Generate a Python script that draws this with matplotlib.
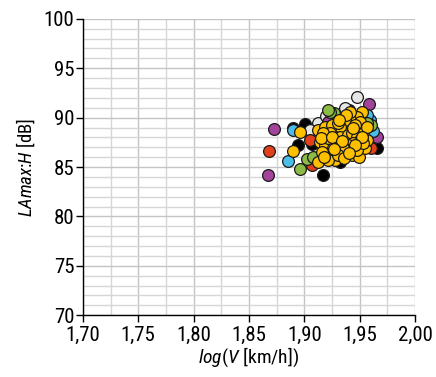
import matplotlib
matplotlib.use("Agg")
import matplotlib.pyplot as plt
import matplotlib.font_manager as fm
from matplotlib.ticker import MultipleLocator, FuncFormatter

# ---------------------------------------------------------------- data
black_v = [1.890, 1.901, 1.907, 1.917, 1.966, 1.932, 1.894, 1.923, 1.940, 1.912, 1.945, 1.928]
black_L = [88.95, 89.35, 87.30, 84.20, 86.90, 85.50, 87.20, 90.00, 90.80, 86.00, 89.80, 86.40]

white_v = [1.912, 1.920, 1.948, 1.937, 1.905]
white_L = [89.45, 90.20, 92.10, 91.00, 88.70]

purple_v = [1.873, 1.867, 1.958, 1.966, 1.921]
purple_L = [88.85, 84.20, 91.40, 88.00, 89.55]

red_v = [1.868, 1.905, 1.907, 1.960]
red_L = [86.60, 87.73, 85.20, 86.90]

blue_v = [1.885, 1.959, 1.962, 1.957, 1.890]
blue_L = [85.60, 89.76, 88.60, 90.30, 88.70]

green_v = [1.896, 1.902, 1.927, 1.923, 1.921, 1.960, 1.957, 1.908]
green_L = [84.80, 85.80, 90.50, 90.57, 90.80, 89.25, 89.45, 86.00]

yellow_v = [1.896, 1.890, 1.912, 1.912, 1.914, 1.919, 1.923, 1.928, 1.935, 1.943,
            1.949, 1.955, 1.957, 1.953, 1.952, 1.948, 1.941, 1.937, 1.932, 1.928,
            1.932, 1.939, 1.943, 1.948, 1.950, 1.944, 1.939, 1.932, 1.926, 1.921,
            1.919, 1.925, 1.930, 1.941, 1.948, 1.953, 1.916, 1.921, 1.935, 1.930,
            1.923, 1.917, 1.941, 1.950, 1.957, 1.915, 1.925, 1.934, 1.946, 1.938,
            1.927, 1.944, 1.936, 1.918, 1.952, 1.931, 1.946, 1.940]
yellow_L = [88.54, 86.61, 85.50, 88.74, 87.53, 87.22, 86.41, 85.70, 86.11, 86.21,
            86.01, 86.92, 87.73, 88.54, 90.57, 90.06, 89.76, 89.76, 89.05, 88.03,
            88.03, 88.24, 88.44, 88.03, 87.73, 87.43, 87.22, 87.02, 86.92, 87.93,
            89.05, 89.25, 89.45, 86.72, 86.72, 87.43, 86.51, 85.70, 86.92, 86.21,
            88.44, 88.44, 90.57, 89.55, 89.05, 87.90, 88.00, 87.60, 89.30, 90.30,
            86.80, 88.90, 85.90, 86.00, 88.00, 89.80, 87.20, 86.40]

series = [
    (black_v, black_L, "#000000"),
    (white_v, white_L, "#e6e6e6"),
    (purple_v, purple_L, "#a2449a"),
    (red_v, red_L, "#e2401c"),
    (blue_v, blue_L, "#4cbde9"),
    (green_v, green_L, "#8bbb44"),
    (yellow_v, yellow_L, "#ffc000"),
]

# ---------------------------------------------------------------- font: look for a condensed face
fam, stretch = "Roboto", "normal"
names = {f.name for f in fm.fontManager.ttflist}
cond = [f for f in fm.fontManager.ttflist
        if f.stretch in ("condensed", "semi-condensed", "extra-condensed") or "Condensed" in f.name or "Narrow" in f.name]
for pref in ["Roboto Condensed", "Liberation Sans Narrow", "Open Sans Condensed"]:
    if pref in names:
        fam = pref
        break
else:
    for f in cond:
        if f.name in ("Roboto", "DejaVu Sans", "Noto Sans", "Open Sans"):
            fam, stretch = f.name, f.stretch
            break

plt.rcParams['font.family'] = [fam, 'DejaVu Sans']
plt.rcParams['font.stretch'] = stretch
plt.rcParams['mathtext.fontset'] = 'custom'
plt.rcParams['mathtext.rm'] = f"{fam}:stretch={stretch}"
plt.rcParams['mathtext.it'] = f"{fam}:style=italic:stretch={stretch}"

fig = plt.figure(figsize=(4.36, 3.77), dpi=100)
ax = fig.add_axes([0.190, 0.164, 0.762, 0.786])

for v, L, c in series:
    ax.scatter(v, L, s=72, c=c, edgecolors="#1a1a1a", linewidths=0.9, zorder=3)

ax.set_xlim(1.70, 2.00)
ax.set_ylim(70, 100)
ax.xaxis.set_major_locator(MultipleLocator(0.05))
ax.xaxis.set_minor_locator(MultipleLocator(0.025))
ax.yaxis.set_major_locator(MultipleLocator(5))
ax.yaxis.set_minor_locator(MultipleLocator(1))
ax.xaxis.set_major_formatter(FuncFormatter(lambda x, p: f"{x:.2f}".replace(".", ",")))

ax.grid(which="major", color="#c4c4c4", lw=1.0, zorder=0)
ax.grid(which="minor", color="#d6d6d6", lw=1.0, zorder=0)
ax.set_axisbelow(True)

for s in ["top", "right"]:
    ax.spines[s].set_visible(False)
for s in ["left", "bottom"]:
    ax.spines[s].set_color("black")
    ax.spines[s].set_linewidth(1.0)

ax.tick_params(which="major", direction="out", length=5, width=1, labelsize=15, colors="black")
ax.tick_params(axis="x", pad=3)
ax.tick_params(axis="y", pad=1)
ax.tick_params(which="minor", length=0)

ax.set_xlabel(r"$\it{log}$($\it{V}$ [km/h])", fontsize=14, labelpad=0)
ax.set_ylabel(r"$\it{LAmax}$:$\it{H}$ [dB]", fontsize=13.5, labelpad=5)

fig.savefig("out.png", dpi=100)
